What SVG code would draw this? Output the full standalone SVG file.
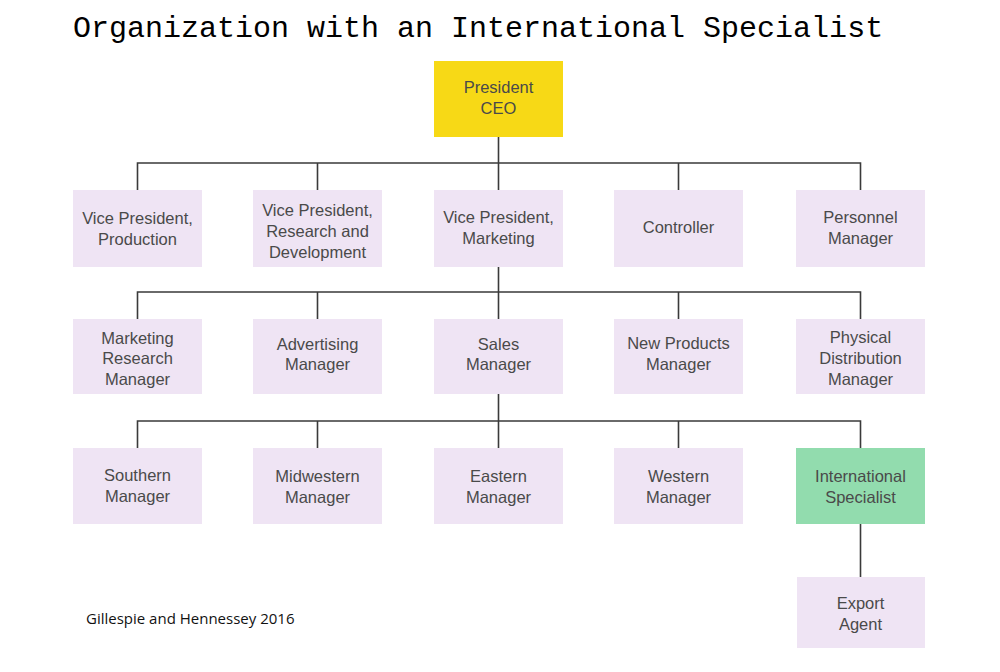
<svg xmlns="http://www.w3.org/2000/svg" width="1000" height="672" viewBox="0 0 1000 672">
<style>
.box{fill:#efe4f4}
.ceo{fill:#f7d916}
.intl{fill:#92dcae}
.t{font-family:"Liberation Sans",Arial,sans-serif;font-size:16.5px;fill:#4a4a4a;text-anchor:middle}
.title{font-family:"Liberation Mono","DejaVu Sans Mono",monospace;font-size:30px;fill:#000}
.foot{font-family:"Open Sans","Liberation Sans",sans-serif;font-size:15px;fill:#111}
.c{stroke:#3a3a3a;stroke-width:1.6;fill:none}
</style>
<rect width="1000" height="672" fill="#fff"/>
<text class="title" x="73" y="37">Organization with an International Specialist</text>
<g id="connectors">
<path class="c" d="M498.5 137V190M137.5 190V163H860.5V190M317.5 163V190M678.5 163V190"/>
<path class="c" d="M498.5 267V319M137.5 319V292H860.5V319M317.5 292V319M678.5 292V319"/>
<path class="c" d="M498.5 394V448M137.5 448V421H860.5V448M317.5 421V448M678.5 421V448"/>
<path class="c" d="M860.5 524V577"/>
</g>
<g id="ceo"><rect class="ceo" x="434" y="61" width="129" height="76"/><text class="t" x="498.5" y="93">President</text><text class="t" x="498.5" y="114">CEO</text></g>
<g id="vp-production"><rect class="box" x="73" y="190" width="129" height="77"/><text class="t" x="137.5" y="224">Vice President,</text><text class="t" x="137.5" y="245">Production</text></g>
<g id="vp-rd"><rect class="box" x="253" y="190" width="129" height="77"/><text class="t" x="317.5" y="216">Vice President,</text><text class="t" x="317.5" y="237">Research and</text><text class="t" x="317.5" y="258">Development</text></g>
<g id="vp-marketing"><rect class="box" x="434" y="190" width="129" height="77"/><text class="t" x="498.5" y="223">Vice President,</text><text class="t" x="498.5" y="244">Marketing</text></g>
<g id="controller"><rect class="box" x="614" y="190" width="129" height="77"/><text class="t" x="678.5" y="233">Controller</text></g>
<g id="personnel"><rect class="box" x="796" y="190" width="129" height="77"/><text class="t" x="860.5" y="223">Personnel</text><text class="t" x="860.5" y="244">Manager</text></g>
<g id="mkt-research"><rect class="box" x="73" y="319" width="129" height="75"/><text class="t" x="137.5" y="344">Marketing</text><text class="t" x="137.5" y="364">Research</text><text class="t" x="137.5" y="385">Manager</text></g>
<g id="advertising"><rect class="box" x="253" y="319" width="129" height="75"/><text class="t" x="317.5" y="350">Advertising</text><text class="t" x="317.5" y="370">Manager</text></g>
<g id="sales"><rect class="box" x="434" y="319" width="129" height="75"/><text class="t" x="498.5" y="350">Sales</text><text class="t" x="498.5" y="370">Manager</text></g>
<g id="new-products"><rect class="box" x="614" y="319" width="129" height="75"/><text class="t" x="678.5" y="349">New Products</text><text class="t" x="678.5" y="370">Manager</text></g>
<g id="physical-dist"><rect class="box" x="796" y="319" width="129" height="75"/><text class="t" x="860.5" y="343">Physical</text><text class="t" x="860.5" y="364">Distribution</text><text class="t" x="860.5" y="385">Manager</text></g>
<g id="southern"><rect class="box" x="73" y="448" width="129" height="76"/><text class="t" x="137.5" y="481">Southern</text><text class="t" x="137.5" y="502">Manager</text></g>
<g id="midwestern"><rect class="box" x="253" y="448" width="129" height="76"/><text class="t" x="317.5" y="482">Midwestern</text><text class="t" x="317.5" y="503">Manager</text></g>
<g id="eastern"><rect class="box" x="434" y="448" width="129" height="76"/><text class="t" x="498.5" y="482">Eastern</text><text class="t" x="498.5" y="503">Manager</text></g>
<g id="western"><rect class="box" x="614" y="448" width="129" height="76"/><text class="t" x="678.5" y="482">Western</text><text class="t" x="678.5" y="503">Manager</text></g>
<g id="intl-specialist"><rect class="intl" x="796" y="448" width="129" height="76"/><text class="t" x="860.5" y="482">International</text><text class="t" x="860.5" y="503">Specialist</text></g>
<g id="export-agent"><rect class="box" x="797" y="577" width="128" height="71"/><text class="t" x="860.5" y="609">Export</text><text class="t" x="860.5" y="630">Agent</text></g>
<text class="foot" x="86" y="624">Gillespie and Hennessey 2016</text>
</svg>
